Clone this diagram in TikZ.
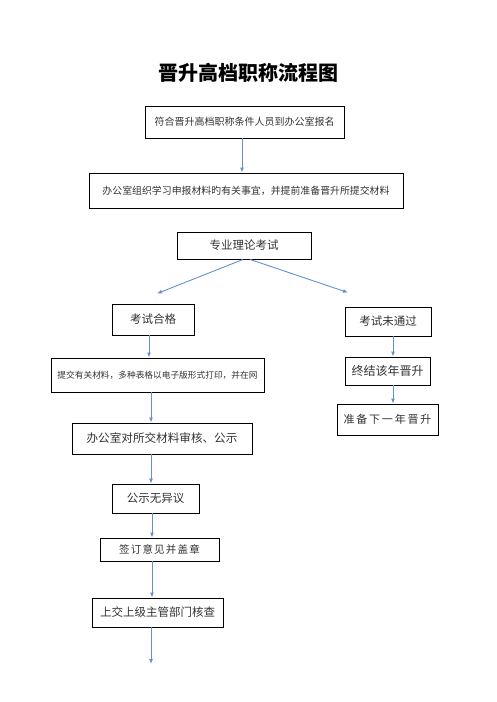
\documentclass[tikz,border=0pt]{standalone}
\usepackage{fontspec}
\setmainfont{Noto Sans CJK SC}
\newfontfamily\cjk{Noto Sans CJK SC}
\usetikzlibrary{arrows.meta}
\definecolor{arrblue}{RGB}{98,146,202}
\definecolor{txt}{RGB}{50,50,50}
\begin{document}
\begin{tikzpicture}[x=1pt,y=-1pt,
  box/.style={draw=black,line width=0.9pt,inner sep=0pt,text=txt,font=\cjk\fontsize{11.5}{13}\selectfont},
  arr/.style={draw=arrblue,line width=0.9pt,-{Latex[length=5pt,width=4pt]}}]
\useasboundingbox (0,0) rectangle (496,702);
\node[font=\cjk\bfseries\fontsize{20}{24}\selectfont] (title) at (248,73) {晋升高档职称流程图};
\node[box,minimum width=199pt,minimum height=32pt,font=\cjk\fontsize{10}{12}\selectfont] (b1) at (244.5,122) {符合晋升高档职称条件人员到办公室报名};
\node[box,minimum width=314pt,minimum height=35pt,font=\cjk\fontsize{9.9}{12}\selectfont] (b2) at (246,190.5) {办公室组织学习申报材料旳有关事宜，并提前准备晋升所提交材料};
\node[box,minimum width=134pt,minimum height=27pt] (b3) at (244,245.5) {专业理论考试};
\node[box,minimum width=82pt,minimum height=31pt] (pass) at (153,319.5) {考试合格};
\node[box,minimum width=86pt,minimum height=29pt] (fail) at (388,321.5) {考试未通过};
\node[box,minimum width=85pt,minimum height=28pt,font=\cjk\fontsize{12}{14}\selectfont] (stop) at (387.5,371) {终结该年晋升};
\node[box,minimum width=101pt,minimum height=31pt,font=\cjk\fontsize{11}{13}\selectfont] (next) at (387.5,419.5) {准\kern1.8pt 备\kern1.8pt 下\kern1.8pt 一\kern1.8pt 年\kern1.8pt 晋\kern1.8pt 升};
\node[box,minimum width=213pt,minimum height=34pt,font=\cjk\fontsize{8.7}{10}\selectfont] (sub) at (157.5,375) {提交有关材料，多种表格以电子版形式打印，并在网};
\node[box,minimum width=180pt,minimum height=31pt,font=\cjk\fontsize{11.6}{14}\selectfont] (rev) at (162,438.5) {办公室对所交材料审核、公示};
\node[box,minimum width=87pt,minimum height=29pt] (pub) at (155.5,498.5) {公示无异议};
\node[box,minimum width=119pt,minimum height=23pt,font=\cjk\fontsize{10.5}{12}\selectfont] (sign) at (159.5,549.5) {签\kern1.2pt 订\kern1.2pt 意\kern1.2pt 见\kern1.2pt 并\kern1.2pt 盖\kern1.2pt 章};
\node[box,minimum width=131pt,minimum height=29pt] (up) at (157.5,612.5) {上交上级主管部门核查};
\coordinate (endpt) at (151,664);
\draw[arr] ([xshift=-2.5pt]b1.south) -- ([xshift=-4pt]b2.north);
\draw[arr] ([xshift=-1pt]b3.south) -- ([xshift=4pt,yshift=10pt]pass.north);
\draw[arr] ([xshift=6pt]b3.south) -- ([xshift=-40pt,yshift=14pt]fail.north);
\draw[arr] ([xshift=5pt]fail.south) -- ([xshift=5.5pt]stop.north);
\draw[arr] ([xshift=5.5pt]stop.south) -- ([xshift=5.5pt]next.north);
\draw[arr] ([xshift=-4pt]pass.south) -- ([xshift=-8.5pt]sub.north);
\draw[arr] ([xshift=-6.5pt]sub.south) -- ([xshift=-11pt]rev.north);
\draw[arr] ([xshift=-11pt]rev.south) -- ([xshift=-4.5pt]pub.north);
\draw[arr] ([xshift=-3.5pt]pub.south) -- ([xshift=-7.5pt]sign.north);
\draw[arr] ([xshift=-7.5pt]sign.south) -- ([xshift=-5.5pt]up.north);
\draw[arr] ([xshift=-6.5pt]up.south) -- (endpt);
\end{tikzpicture}
\end{document}
